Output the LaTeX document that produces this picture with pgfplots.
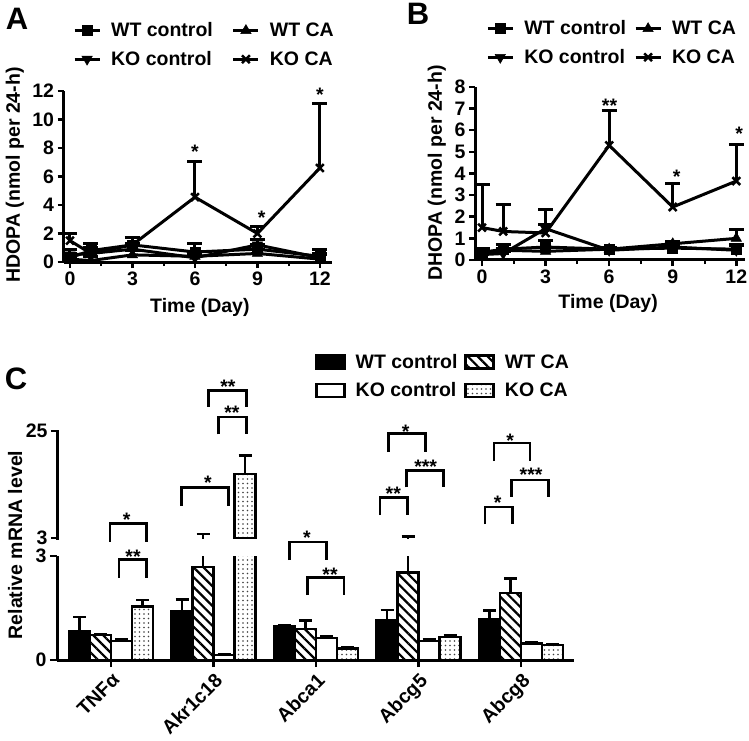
\documentclass[border=0pt]{standalone}
\usepackage{pgfplots}
\usepackage{pgfplotstable}
\pgfplotsset{compat=1.18}
\usepackage{fontspec}
\setmainfont{Liberation Sans}
\usetikzlibrary{patterns.meta}

\newcommand{\fs}{\fontsize{19.5}{23}\selectfont\bfseries}

\pgfplotsset{
  prism/.style={
    scale only axis,
    axis x line=bottom, axis y line=left,
    axis line style={line width=3pt, -},
    major tick style={line width=2.5pt, black},
    minor tick style={line width=2pt, black},
    tick align=outside,
    major tick length=6pt,
    minor tick length=4pt,
    /pgf/number format/assume math mode=true,
    tick label style={font=\fs},
    label style={font=\fs},
    legend style={draw=none, fill=none, font=\fs, legend columns=2,
      inner sep=0pt, row sep=9pt, anchor=north west,
      /tikz/every odd column/.append style={column sep=8pt},
      /tikz/every even column/.append style={column sep=17pt}},
    legend cell align=left,
  },
  linelegend/.style={
    legend image code/.code={\draw[mark repeat=2,mark phase=2,##1] plot coordinates {(0pt,0pt) (12.5pt,0pt) (25pt,0pt)};}
  },
  barlegend/.style={
    legend image code/.code={\draw[##1] (0pt,-6.5pt) rectangle (28pt,6.5pt);}
  },
  ser/.style={black, line width=3pt},
  perr/.style={
    /pgfplots/error bars/y dir=plus,
    /pgfplots/error bars/y explicit,
    /pgfplots/error bars/error mark=-,
    /pgfplots/error bars/error bar style={line width=3pt, black, solid},
    /pgfplots/every error bar/.append style={line width=3pt},
    /pgfplots/error bars/error mark options={rotate=90, line width=3pt, mark size=7.5pt, black, solid}},
  cerr/.style={
    /pgfplots/error bars/y dir=plus,
    /pgfplots/error bars/y explicit,
    /pgfplots/error bars/error mark=-,
    /pgfplots/error bars/error bar style={line width=2.8pt, draw=black, solid},
    /pgfplots/every error bar/.append style={line width=2.8pt},
    /pgfplots/error bars/error mark options={rotate=90, line width=2.8pt, mark size=6.5pt, draw=black, solid}},
  cbar/.style={ybar, bar width=21pt, bar shift=0pt, draw=black, line width=2.5pt},
}

\tikzset{star/.style={anchor=base, yshift=-11.3pt, inner sep=0pt, font=\fs}}

% panel A: HDOPA
\pgfplotstableread{
x y e
0 0.3 0.3
1 0.8 0.5
3 1.2 0.5
6 0.7 0.6
9 0.9 0.3
12 0.4 0.5
}\Awtc
\pgfplotstableread{
x y e
0 0.2 0.2
1 0.1 0.3
3 0.5 0.3
6 0.4 0.3
9 0.6 0.3
12 0.2 0.3
}\Awtca
\pgfplotstableread{
x y e
0 0.5 0.4
1 0.6 0.4
3 0.9 0.4
6 0.3 0.3
9 1.2 0.4
12 0.3 0.3
}\Akoc
\pgfplotstableread{
x y e
0 1.5 0.5
1 0.6 0.4
3 1.2 0.55
6 4.55 2.5
9 2.0 0.5
12 6.6 4.5
}\Akoca

% panel B: DHOPA
\pgfplotstableread{
x y e
0 0.35 0.2
1 0.5 0.2
3 0.6 0.3
6 0.5 0.1
9 0.55 0.1
12 0.5 0.2
}\Bwtc
\pgfplotstableread{
x y e
0 0.3 0.1
1 0.45 0.1
3 0.4 0.2
6 0.5 0.1
9 0.75 0.1
12 1.0 0.4
}\Bwtca
\pgfplotstableread{
x y e
0 0.25 0.1
1 0.3 0.1
3 1.45 0.2
6 0.45 0.1
9 0.6 0.1
12 0.45 0.2
}\Bkoc
\pgfplotstableread{
x y e
0 1.5 2.0
1 1.32 1.23
3 1.25 1.1
6 5.3 1.6
9 2.45 1.1
12 3.65 1.7
}\Bkoca

% panel C: relative mRNA, genes at 0..4
\pgfplotstableread{
x y e
0 0.82 0.42
1 1.42 0.33
2 0.98 0.03
3 1.15 0.29
4 1.18 0.24
}\Cwtc
\pgfplotstableread{
x y e
0 0.72 0.03
1 2.69 1.13
2 0.89 0.26
3 2.52 0.75
4 1.93 0.43
}\Cwtca
\pgfplotstableread{
x y e
0 0.55 0.03
1 0.14 0.02
2 0.64 0.04
3 0.55 0.03
4 0.48 0.03
}\Ckoc
\pgfplotstableread{
x y e
0 1.54 0.19
1 16.2 3.7
2 0.33 0.03
3 0.66 0.04
4 0.43 0.03
}\Ckoca

\begin{document}
\begin{tikzpicture}[font=\fs]
\useasboundingbox (0,0) rectangle (749pt,740pt);

\node[font=\fontsize{31}{34}\selectfont\bfseries] at (17pt,721pt) {A};
\node[font=\fontsize{31}{34}\selectfont\bfseries] at (418pt,726pt) {B};
\node[font=\fontsize{31}{34}\selectfont\bfseries] at (16pt,361pt) {C};

% ---------- A ----------
\begin{axis}[prism, linelegend,
  at={(63.5pt,478pt)}, anchor=south west,
  width=268.5pt, height=171pt,
  xmin=-0.31, xmax=12.58, ymin=0, ymax=12,
  xtick={0,3,6,9,12}, minor xtick={1.5,4.5,7.5,10.5},
  ytick={0,2,...,12},
  clip=false,
  xlabel={Time (Day)}, ylabel={HDOPA (nmol per 24-h)},
  every axis x label/.style={at={(axis description cs:0.508,-0.263)}, anchor=center},
  every axis y label/.style={at={(axis description cs:-0.181,0.509)}, rotate=90, anchor=center},
  legend style={at={(axis description cs:0.035,1.412)}},
]
\addplot[ser, mark=square*, mark size=5pt, mark options={solid, line width=0.5pt}, perr] table[x=x, y=y, y error=e] {\Awtc};
\addlegendentry{WT control}
\addplot[ser, mark=triangle*, mark size=6pt, mark options={solid, line width=0.5pt}, perr] table[x=x, y=y, y error=e] {\Awtca};
\addlegendentry{WT CA}
\addplot[ser, mark=triangle*, mark size=6pt, mark options={solid, rotate=180, line width=0.5pt}, perr] table[x=x, y=y, y error=e] {\Akoc};
\addlegendentry{KO control}
\addplot[ser, mark=x, mark size=5.5pt, mark options={solid, line width=2.5pt}, perr] table[x=x, y=y, y error=e] {\Akoca};
\addlegendentry{KO CA}
\node[star] at (axis cs:6,8.07) {*};
\node[star] at (axis cs:9.2,3.44) {*};
\node[star] at (axis cs:12,12.07) {*};
\end{axis}

% ---------- B ----------
\begin{axis}[prism, linelegend,
  at={(475pt,480pt)}, anchor=south west,
  width=270pt, height=173pt,
  xmin=-0.33, xmax=12.41, ymin=0, ymax=8,
  xtick={0,3,6,9,12}, minor xtick={1.5,4.5,7.5,10.5},
  ytick={0,1,...,8},
  clip=false,
  xlabel={Time (Day)}, ylabel={DHOPA (nmol per 24-h)},
  every axis x label/.style={at={(axis description cs:0.493,-0.249)}, anchor=center},
  every axis y label/.style={at={(axis description cs:-0.141,0.503)}, rotate=90, anchor=center},
  legend style={at={(axis description cs:0.041,1.395)},
    /tikz/every even column/.append style={column sep=6pt}},
]
\addplot[ser, mark=square*, mark size=5pt, mark options={solid, line width=0.5pt}, perr] table[x=x, y=y, y error=e] {\Bwtc};
\addlegendentry{WT control}
\addplot[ser, mark=triangle*, mark size=6pt, mark options={solid, line width=0.5pt}, perr] table[x=x, y=y, y error=e] {\Bwtca};
\addlegendentry{WT CA}
\addplot[ser, mark=triangle*, mark size=6pt, mark options={solid, rotate=180, line width=0.5pt}, perr] table[x=x, y=y, y error=e] {\Bkoc};
\addlegendentry{KO control}
\addplot[ser, mark=x, mark size=5.5pt, mark options={solid, line width=2.5pt}, perr] table[x=x, y=y, y error=e] {\Bkoca};
\addlegendentry{KO CA}
\node[star] at (axis cs:6.02,7.35) {**};
\node[star] at (axis cs:9.18,4.05) {*};
\node[star] at (axis cs:12.14,6.05) {*};
\end{axis}

% ---------- C, upper segment (3 to 25) ----------
\begin{axis}[prism,
  at={(57pt,202pt)}, anchor=south west,
  width=517pt, height=107pt,
  x axis line style={draw=none},
  xmin=-0.527, xmax=4.517, ymin=3, ymax=25,
  ytick={3,25}, xtick=\empty,
  clip mode=individual,
]
\coordinate (ubot) at (rel axis cs:0,0);
\coordinate (utop) at (rel axis cs:0,1);
\addplot[cbar, pattern={Dots[distance=4.5pt, radius=0.8pt]}, pattern color=black!75, forget plot, cerr]
  coordinates {(1.3073,16.2) +- (0,3.7)};
\addplot[only marks, mark=none, forget plot, cerr]
  coordinates {(0.8976,2.69) +- (0,1.13) (2.8976,2.52) +- (0,0.75)};
\end{axis}

% ---------- C, lower segment (0 to 3) ----------
\begin{axis}[prism,
  at={(57pt,80pt)}, anchor=south west,
  width=517pt, height=104pt,
  xmin=-0.527, xmax=4.517, ymin=0, ymax=3,
  ytick={0,3},
  xtick={0,1,2,3,4},
  xticklabels={TNFα, Akr1c18, Abca1, Abcg5, Abcg8},
  xticklabel style={rotate=45, anchor=north east},
  major tick length=7pt,
  clip mode=individual,
  ylabel={Relative mRNA level},
  every axis y label/.style={at={(axis description cs:-0.081,1.106)}, rotate=90, anchor=center},
  legend style={at={(axis description cs:0.499,2.962)},
    /tikz/every even column/.append style={column sep=5pt}},
]
\addplot[cbar, fill=black, barlegend, cerr] table[x expr=\thisrow{x}-0.3073, y=y, y error=e] {\Cwtc};
\addlegendentry{WT control}
\addplot[cbar, pattern={Lines[angle=-45, distance=7pt, line width=2.2pt]}, barlegend, cerr] table[x expr=\thisrow{x}-0.1024, y=y, y error=e] {\Cwtca};
\addlegendentry{WT CA}
\addplot[cbar, fill=white, barlegend, cerr] table[x expr=\thisrow{x}+0.1024, y=y, y error=e] {\Ckoc};
\addlegendentry{KO control}
\addplot[cbar, pattern={Dots[distance=4.5pt, radius=0.8pt]}, pattern color=black!75, barlegend, cerr] table[x expr=\thisrow{x}+0.3073, y=y, y error=e] {\Ckoca};
\addlegendentry{KO CA}

% significance brackets
\draw[line width=2.5pt] (axis cs:-0.01,3.41) |- (axis cs:0.348,3.94) -- (axis cs:0.348,3.41);
\node[star] at (axis cs:0.153,4.18) {*};
\draw[line width=2.5pt] (axis cs:0.078,2.38) |- (axis cs:0.348,2.90) -- (axis cs:0.348,2.38);
\node[star] at (axis cs:0.215,3.12) {**};
\draw[line width=2.5pt] (axis cs:0.690,4.44) |- (axis cs:1.144,4.97) -- (axis cs:1.144,4.44);
\node[star] at (axis cs:0.946,5.24) {*};
\draw[line width=2.5pt] (axis cs:0.949,7.30) |- (axis cs:1.324,7.78) -- (axis cs:1.324,7.30);
\node[star] at (axis cs:1.141,8.02) {**};
\draw[line width=2.5pt] (axis cs:1.047,6.51) |- (axis cs:1.324,7.01) -- (axis cs:1.324,6.51);
\node[star] at (axis cs:1.18,7.26) {**};
\draw[line width=2.5pt] (axis cs:1.740,2.88) |- (axis cs:2.104,3.41) -- (axis cs:2.104,2.88);
\node[star] at (axis cs:1.912,3.66) {*};
\draw[line width=2.5pt] (axis cs:1.915,1.87) |- (axis cs:2.273,2.38) -- (axis cs:2.273,1.87);
\node[star] at (axis cs:2.137,2.59) {**};
\draw[line width=2.5pt] (axis cs:2.705,6.00) |- (axis cs:3.070,6.53) -- (axis cs:3.070,6.00);
\node[star] at (axis cs:2.875,6.72) {*};
\draw[line width=2.5pt] (axis cs:2.885,4.98) |- (axis cs:3.242,5.46) -- (axis cs:3.242,4.98);
\node[star] at (axis cs:3.070,5.71) {***};
\draw[line width=2.5pt] (axis cs:2.624,4.18) |- (axis cs:2.891,4.69) -- (axis cs:2.891,4.18);
\node[star] at (axis cs:2.754,4.92) {**};
\draw[line width=2.5pt] (axis cs:3.737,5.74) |- (axis cs:4.088,6.26) -- (axis cs:4.088,5.74);
\node[star] at (axis cs:3.893,6.46) {*};
\draw[line width=2.5pt] (axis cs:3.909,4.71) |- (axis cs:4.266,5.19) -- (axis cs:4.266,4.71);
\node[star] at (axis cs:4.098,5.48) {***};
\draw[line width=2.5pt] (axis cs:3.649,3.92) |- (axis cs:3.915,4.42) -- (axis cs:3.915,3.92);
\node[star] at (axis cs:3.773,4.66) {*};
\end{axis}

% y axis line of the upper (broken) segment, 3 to 25
\draw[line width=3pt, black, line cap=rect] (ubot) -- (utop);
\end{tikzpicture}
\end{document}
